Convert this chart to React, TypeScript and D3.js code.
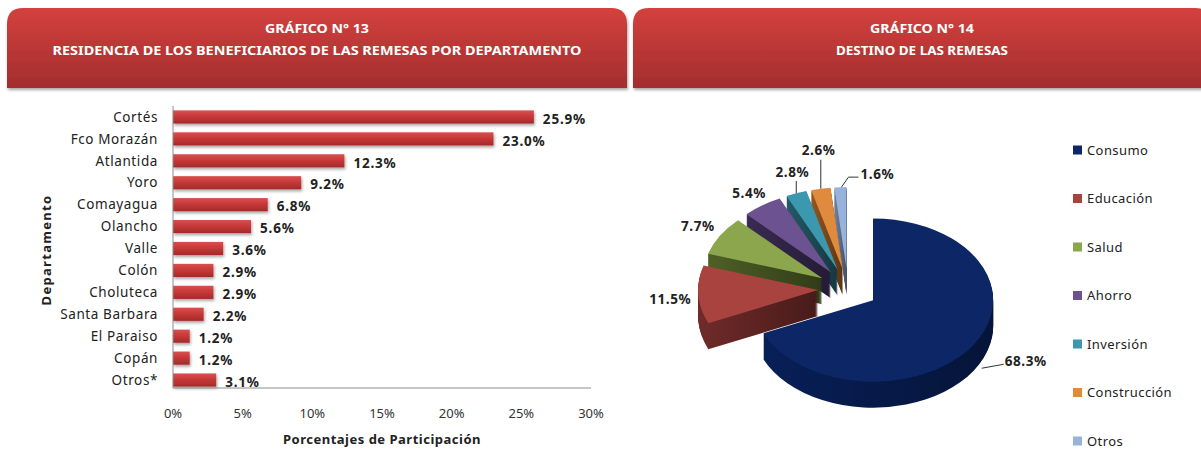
import React, { useEffect, useRef } from "react";
import * as d3 from "d3";

// Gráfico 13: residencia de los beneficiarios por departamento
const departamentos = ["Cortés", "Fco Morazán", "Atlantida", "Yoro", "Comayagua", "Olancho", "Valle", "Colón", "Choluteca", "Santa Barbara", "El Paraiso", "Copán", "Otros*"];
const participacion = [25.9, 23.0, 12.3, 9.2, 6.8, 5.6, 3.6, 2.9, 2.9, 2.2, 1.2, 1.2, 3.1];
const xTicks = [0, 5, 10, 15, 20, 25, 30];

// Gráfico 14: destino de las remesas
const destinos = ["Consumo", "Educación", "Salud", "Ahorro", "Inversión", "Construcción", "Otros"];
const destinoValores = [68.3, 11.5, 7.7, 5.4, 2.8, 2.6, 1.6];
const destinoColores = ["#0d2766", "#a8433f", "#8ba64c", "#6d5291", "#3b98ae", "#e08a3d", "#98b3db"];
const destinoSombras = ["#071a4a", "#5e2422", "#415020", "#302445", "#1d4b56", "#7c471b", "#5c6c88"];

export default function App() {
  const svgRef = useRef<SVGSVGElement>(null);

  useEffect(() => {
    const svg = d3.select(svgRef.current);
    svg.selectAll("*").remove();
    const font = "'Noto Sans', 'Open Sans', sans-serif";

    const defs = svg.append("defs");
    const hg = defs.append("linearGradient").attr("id", "hdr").attr("x1", 0).attr("y1", 0).attr("x2", 0).attr("y2", 1);
    hg.append("stop").attr("offset", "0%").attr("stop-color", "#d3413e");
    hg.append("stop").attr("offset", "100%").attr("stop-color", "#a32d2d");
    const bg = defs.append("linearGradient").attr("id", "bar").attr("x1", 0).attr("y1", 0).attr("x2", 0).attr("y2", 1);
    bg.append("stop").attr("offset", "0%").attr("stop-color", "#d94f4f");
    bg.append("stop").attr("offset", "50%").attr("stop-color", "#c53737");
    bg.append("stop").attr("offset", "100%").attr("stop-color", "#a32a2a");
    const sh = defs.append("filter").attr("id", "shadow").attr("x", "-10%").attr("y", "-30%").attr("width", "130%").attr("height", "180%");
    sh.append("feDropShadow").attr("dx", 1).attr("dy", 2).attr("stdDeviation", 1.4).attr("flood-color", "#000").attr("flood-opacity", 0.35);

    // headers
    const headerPath = (x0: number, x1: number, y0: number, y1: number, r: number) =>
      `M${x0},${y1} V${y0 + r} Q${x0},${y0} ${x0 + r},${y0} H${x1 - r} Q${x1},${y0} ${x1},${y0 + r} V${y1} Z`;
    const headers = [
      { x0: 7, x1: 627, l1: "GRÁFICO  N° 13", l2: "RESIDENCIA  DE LOS BENEFICIARIOS  DE LAS REMESAS  POR DEPARTAMENTO", w2: 529 },
      { x0: 633, x1: 1211, l1: "GRÁFICO  N° 14", l2: "DESTINO  DE LAS REMESAS", w2: 172 },
    ];
    headers.forEach((h) => {
      svg.append("path").attr("d", headerPath(h.x0, h.x1, 8, 88, 16)).attr("fill", "url(#hdr)").attr("filter", "url(#shadow)");
      const cx = (h.x0 + h.x1) / 2;
      svg.append("text").attr("x", cx).attr("y", 33).attr("text-anchor", "middle").attr("font-family", font)
        .attr("font-weight", "bold").attr("font-size", 12.5).attr("fill", "#fff")
        .attr("textLength", 104).attr("lengthAdjust", "spacingAndGlyphs").text(h.l1);
      svg.append("text").attr("x", cx).attr("y", 55).attr("text-anchor", "middle").attr("font-family", font)
        .attr("font-weight", "bold").attr("font-size", 12.5).attr("fill", "#fff")
        .attr("textLength", h.w2).attr("lengthAdjust", "spacingAndGlyphs").text(h.l2);
    });

    // bar chart
    const x = d3.scaleLinear().domain([0, 30]).range([173, 591]);
    const y = d3.scaleBand().domain(departamentos).range([106, 391]).paddingInner(0.4).paddingOuter(0.2);
    const bars = svg.append("g");

    bars.selectAll(".bar").data(departamentos).join("rect").attr("class", "bar")
      .attr("x", x(0)).attr("y", (d) => y(d)!)
      .attr("width", (d, i) => x(participacion[i]) - x(0)).attr("height", y.bandwidth())
      .attr("fill", "url(#bar)").attr("filter", "url(#shadow)");

    bars.append("line").attr("x1", x(0)).attr("x2", x(0)).attr("y1", 106).attr("y2", 388).attr("stroke", "#8c8c8c");
    bars.append("line").attr("x1", x(0)).attr("x2", x(30)).attr("y1", 388).attr("y2", 388).attr("stroke", "#8c8c8c");

    bars.selectAll(".cat").data(departamentos).join("text").attr("class", "cat")
      .attr("x", 158).attr("y", (d) => y(d)! + y.bandwidth() / 2).attr("dy", "0.35em")
      .attr("text-anchor", "end").attr("font-family", font).attr("font-size", 13.5).attr("letter-spacing", 0.6)
      .attr("fill", "#222").text((d) => d);

    bars.selectAll(".val").data(departamentos).join("text").attr("class", "val")
      .attr("x", (d, i) => x(participacion[i]) + 9).attr("y", (d) => y(d)! + y.bandwidth() / 2 + 2).attr("dy", "0.35em")
      .attr("font-family", font).attr("font-size", 13.5).attr("font-weight", "bold").attr("letter-spacing", 0.8).attr("fill", "#222")
      .text((d, i) => participacion[i].toFixed(1) + "%");

    bars.selectAll(".tick").data(xTicks).join("text").attr("class", "tick")
      .attr("x", (d) => x(d)).attr("y", 413).attr("dy", "0.35em").attr("text-anchor", "middle")
      .attr("font-family", font).attr("font-size", 13).attr("fill", "#333").text((d) => d + "%");

    bars.append("text").attr("x", 382).attr("y", 439).attr("dy", "0.35em").attr("text-anchor", "middle")
      .attr("font-family", font).attr("font-size", 13).attr("font-weight", "bold").attr("letter-spacing", 0.5).attr("fill", "#222")
      .text("Porcentajes de Participación");
    bars.append("text").attr("transform", "translate(46,250) rotate(-90)").attr("dy", "0.35em").attr("text-anchor", "middle")
      .attr("font-family", font).attr("font-size", 13).attr("font-weight", "bold").attr("letter-spacing", 1.3).attr("fill", "#222")
      .text("Departamento");

    // 3D exploded pie
    const cx = 848, cy = 289, R = 120, K = 0.68, DEPTH = 26, EXPLODE = 30;
    const pie = d3.pie<number>().sort(null).value((d) => d)(destinoValores);
    const arc = d3.arc<d3.PieArcDatum<number>>().innerRadius(0).outerRadius(R);
    const mid = (d: d3.PieArcDatum<number>) => (d.startAngle + d.endAngle) / 2;
    const pieG = svg.append("g").attr("transform", `translate(${cx},${cy})`);

    pie.forEach((d, i) => {
      const sg = defs.append("linearGradient").attr("id", "side" + i).attr("x1", 0).attr("y1", 0).attr("x2", 1).attr("y2", 0);
      sg.append("stop").attr("offset", "0%").attr("stop-color", d3.color(destinoSombras[i])!.brighter(0.5).toString());
      sg.append("stop").attr("offset", "100%").attr("stop-color", d3.color(destinoSombras[i])!.darker(0.8).toString());
    });

    const order = pie.map((d, i) => i).sort((a, b) => -Math.cos(mid(pie[a])) + Math.cos(mid(pie[b])));
    order.forEach((i) => {
      const d = pie[i];
      const m = mid(d);
      const ox = EXPLODE * Math.sin(m), oy = -EXPLODE * Math.cos(m) * K;
      const g = pieG.append("g").attr("transform", `translate(${ox},${oy})`);
      g.selectAll("path.side").data(d3.range(DEPTH, 0, -1)).join("path").attr("class", "side")
        .attr("d", arc(d)).attr("transform", (l) => `translate(0,${l}) scale(1,${K})`)
        .attr("fill", `url(#side${i})`);
      g.append("path").attr("d", arc(d)).attr("transform", `scale(1,${K})`).attr("fill", destinoColores[i]);
    });

    // pie labels
    const labelDist = [22, 28, 24, 18, 14, 30, 10];
    const leader = [true, false, false, false, true, true, true];
    pie.forEach((d, i) => {
      const m = mid(d);
      const s = Math.sin(m), c = -Math.cos(m);
      const vx = EXPLODE * s, vy = EXPLODE * c * K;
      const px = vx + R * s, py = vy + R * c * K + (c > 0 ? DEPTH * Math.min(0.6, 0.1 + c) : 0);
      const len = Math.hypot(s, c * K);
      const ux = s / len, uy = (c * K) / len;
      const txt = destinoValores[i].toFixed(1) + "%";
      const lab = pieG.append("g");
      const style = (t: d3.Selection<SVGTextElement, unknown, null, undefined>) =>
        t.attr("font-family", font).attr("font-size", 13.5).attr("font-weight", "bold").attr("letter-spacing", 0.6)
          .attr("fill", "#222").text(txt);
      if (i === 0) {
        // horizontal leader to the right
        const ey = py + 4;
        lab.append("path").attr("d", `M${px + 8},${ey + 4} L${px + 30},${ey}`).attr("stroke", "#333").attr("fill", "none");
        style(lab.append("text").attr("x", px + 31).attr("y", ey - 3).attr("dy", "0.35em"));
      } else if (leader[i] && Math.abs(ux) < 0.15) {
        // elbow leader, label on the right
        const qx = px + 8, qy = py - labelDist[i];
        lab.append("path").attr("d", `M${px + 1},${py} L${qx},${qy} H${qx + 10}`).attr("stroke", "#333").attr("fill", "none");
        style(lab.append("text").attr("x", qx + 12).attr("y", qy - 3).attr("dy", "0.35em"));
      } else if (leader[i]) {
        const qy = py + uy * labelDist[i];
        lab.append("path").attr("d", `M${px},${py} V${qy}`).attr("stroke", "#333").attr("fill", "none");
        style(lab.append("text").attr("x", px + ux * 8).attr("y", qy - 9).attr("dy", "0.35em").attr("text-anchor", "middle"));
      } else {
        const qx = px + ux * labelDist[i], qy = py + uy * labelDist[i];
        style(lab.append("text").attr("x", qx).attr("y", qy).attr("dy", "0.35em").attr("text-anchor", "middle"));
      }
    });

    // legend
    const ly = d3.scalePoint<string>().domain(destinos).range([150, 441]);
    const leg = svg.append("g");
    leg.selectAll("rect").data(destinos).join("rect")
      .attr("x", 1073).attr("y", (d) => ly(d)! - 4.5).attr("width", 9).attr("height", 9)
      .attr("fill", (d, i) => destinoColores[i]);
    leg.selectAll("text").data(destinos).join("text")
      .attr("x", 1087).attr("y", (d) => ly(d)!).attr("dy", "0.35em")
      .attr("font-family", font).attr("font-size", 13).attr("letter-spacing", 0.4).attr("fill", "#222").text((d) => d);
  }, []);

  return (
    <svg ref={svgRef} width={1201} height={449}
      style={{ position: "absolute", left: 0, top: 0, display: "block", background: "#fff" }} />
  );
}
